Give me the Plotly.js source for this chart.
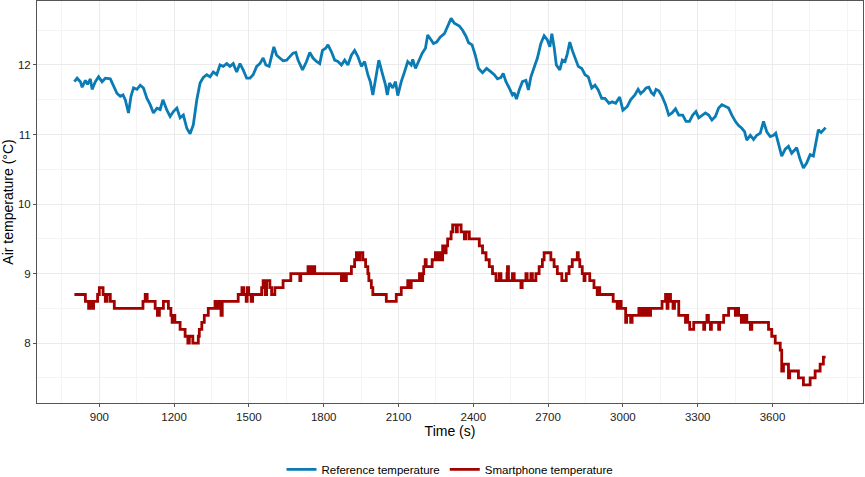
<!DOCTYPE html>
<html>
<head>
<meta charset="utf-8">
<script src="https://cdn.plot.ly/plotly-3.0.1.min.js"></script>
<style>html,body{margin:0;padding:0;background:#fff;}#chart{width:865px;height:477px;}</style>
</head>
<body>
<div id="chart"></div>
<script>
// Reference temperature (time in s, temperature in °C)
const refTime = [800,811,824,831,844,853,864,871,884,897,911,924,944,957,971,984,995,1004,1017,1027,1037,1051,1064,1077,1091,1104,1117,1131,1144,1155,1171,1184,1197,1211,1224,1237,1251,1264,1277,1291,1304,1317,1331,1344,1357,1371,1384,1397,1411,1424,1437,1451,1464,1477,1491,1504,1517,1531,1544,1557,1568,1581,1591,1600,1611,1624,1637,1651,1664,1677,1688,1697,1715,1731,1744,1757,1771,1784,1795,1808,1817,1831,1844,1857,1871,1884,1897,1911,1924,1937,1951,1964,1977,1987,1997,2011,2021,2035,2048,2055,2064,2077,2088,2097,2111,2124,2137,2151,2157,2168,2181,2195,2208,2217,2231,2240,2253,2267,2284,2297,2311,2324,2344,2357,2371,2381,2395,2408,2421,2437,2453,2471,2484,2497,2511,2520,2531,2544,2557,2564,2573,2584,2597,2611,2621,2631,2644,2657,2671,2684,2697,2707,2715,2724,2733,2747,2757,2768,2777,2787,2797,2811,2821,2835,2848,2861,2875,2888,2901,2915,2928,2944,2957,2971,2987,3000,3017,3031,3048,3061,3071,3084,3093,3104,3115,3124,3133,3144,3157,3171,3184,3197,3211,3224,3240,3253,3267,3280,3293,3304,3317,3331,3344,3357,3371,3384,3397,3411,3424,3437,3451,3464,3477,3488,3497,3511,3524,3537,3551,3564,3577,3591,3604,3613,3624,3637,3651,3664,3677,3691,3697,3711,3724,3737,3751,3764,3773,3784,3795,3804,3813];
const refTemp = [11.76,11.81,11.76,11.68,11.78,11.72,11.80,11.65,11.76,11.83,11.76,11.81,11.80,11.71,11.59,11.55,11.57,11.50,11.31,11.55,11.67,11.65,11.71,11.67,11.52,11.43,11.31,11.38,11.36,11.50,11.35,11.26,11.33,11.38,11.24,11.28,11.09,11.01,11.14,11.50,11.74,11.82,11.86,11.83,11.90,11.86,12.00,11.98,12.02,11.98,12.02,11.90,12.02,11.93,11.81,11.81,11.86,11.98,12.02,12.10,12.00,11.98,12.12,12.26,12.14,12.10,12.06,12.07,12.12,12.17,12.18,12.07,11.93,12.05,12.18,12.10,12.05,12.02,12.21,12.24,12.29,12.19,12.07,12.05,12.00,12.07,12.00,12.14,12.21,12.12,11.98,12.05,11.86,11.76,11.57,11.88,12.07,11.88,11.71,11.57,11.74,11.67,11.76,11.56,11.76,11.90,12.05,12.00,12.08,11.95,12.05,12.17,12.24,12.43,12.36,12.31,12.33,12.40,12.45,12.57,12.67,12.60,12.56,12.50,12.41,12.32,12.29,12.14,11.95,11.89,11.95,11.90,11.86,11.80,11.82,11.88,11.76,11.67,11.57,11.60,11.51,11.64,11.76,11.78,11.64,11.83,11.98,12.10,12.31,12.42,12.36,12.26,12.45,12.26,12.00,11.93,12.07,12.05,12.16,12.33,12.21,12.08,11.98,11.95,11.86,11.83,11.67,11.71,11.64,11.52,11.52,11.45,11.47,11.45,11.54,11.35,11.40,11.50,11.57,11.65,11.59,11.63,11.67,11.68,11.60,11.57,11.65,11.63,11.55,11.43,11.28,11.31,11.37,11.28,11.28,11.19,11.19,11.28,11.33,11.24,11.28,11.31,11.28,11.21,11.26,11.38,11.43,11.40,11.38,11.28,11.19,11.13,11.09,11.04,10.92,10.99,10.93,10.99,11.02,11.19,11.04,10.97,10.99,11.02,10.88,10.69,10.79,10.83,10.73,10.78,10.81,10.64,10.52,10.59,10.71,10.69,10.88,11.07,11.03,11.07,11.10];

// Smartphone temperature (step changes: time in s, temperature in °C)
const phoneTime = [800,844,857,864,868,877,893,900,915,924,931,944,960,1075,1084,1092,1124,1133,1141,1157,1177,1187,1192,1197,1203,1224,1244,1255,1261,1275,1297,1301,1311,1321,1337,1364,1373,1380,1388,1393,1457,1472,1479,1489,1493,1499,1509,1515,1551,1557,1565,1571,1584,1591,1604,1637,1668,1704,1708,1737,1744,1755,1764,1871,1877,1884,1891,1911,1924,1931,1941,1945,1957,1968,1977,1981,1991,1997,2051,2091,2111,2137,2144,2151,2184,2191,2197,2201,2207,2211,2235,2248,2257,2261,2272,2277,2287,2291,2297,2311,2317,2331,2336,2351,2364,2371,2384,2424,2437,2451,2464,2477,2491,2504,2511,2535,2537,2541,2557,2564,2591,2596,2611,2616,2631,2637,2651,2664,2677,2684,2711,2724,2737,2755,2773,2784,2797,2817,2821,2827,2837,2844,2848,2867,2884,2897,2901,2907,2961,2977,2984,2993,3011,3015,3031,3037,3064,3071,3077,3088,3093,3104,3111,3157,3171,3177,3181,3191,3201,3207,3224,3251,3255,3260,3268,3284,3324,3328,3337,3343,3351,3355,3384,3388,3404,3424,3451,3457,3464,3475,3480,3488,3493,3497,3511,3517,3584,3597,3611,3631,3637,3644,3664,3669,3704,3724,3751,3771,3791,3804,3813];
const phoneTemp = [8.7,8.6,8.5,8.6,8.5,8.6,8.7,8.8,8.7,8.6,8.7,8.6,8.5,8.6,8.7,8.6,8.5,8.4,8.5,8.6,8.5,8.4,8.3,8.4,8.3,8.2,8.1,8.0,8.1,8.0,8.1,8.2,8.3,8.4,8.5,8.6,8.5,8.6,8.4,8.6,8.7,8.8,8.7,8.6,8.8,8.7,8.6,8.7,8.8,8.9,8.7,8.9,8.8,8.7,8.8,8.9,9.0,8.9,9.0,9.1,9.0,9.1,9.0,8.9,9.0,8.9,9.0,9.1,9.2,9.3,9.2,9.3,9.2,9.1,9.0,8.9,8.8,8.7,8.6,8.7,8.8,8.9,8.8,8.9,9.0,8.9,9.0,9.1,9.2,9.1,9.2,9.3,9.2,9.3,9.2,9.4,9.3,9.4,9.5,9.6,9.7,9.6,9.7,9.6,9.5,9.6,9.5,9.4,9.3,9.2,9.1,9.0,8.9,9.0,8.9,9.0,9.1,8.9,9.0,8.9,8.8,8.9,9.0,8.9,9.0,8.9,9.0,9.1,9.2,9.3,9.2,9.1,9.0,8.9,9.0,9.1,9.2,9.3,9.2,9.1,9.0,8.9,9.0,8.9,8.8,8.7,8.8,8.7,8.6,8.5,8.6,8.5,8.3,8.4,8.3,8.4,8.5,8.4,8.5,8.4,8.5,8.4,8.5,8.6,8.7,8.5,8.7,8.6,8.5,8.6,8.4,8.3,8.4,8.3,8.2,8.3,8.2,8.3,8.4,8.3,8.2,8.3,8.2,8.3,8.4,8.5,8.4,8.5,8.4,8.3,8.4,8.3,8.4,8.3,8.2,8.3,8.2,8.1,8.0,7.9,7.6,7.7,7.5,7.6,7.5,7.4,7.5,7.6,7.7,7.8,7.8];

const xTicks = [900,1200,1500,1800,2100,2400,2700,3000,3300,3600];
const yTicks = [8,9,10,11,12];
const seriesNames = ["Reference temperature","Smartphone temperature"];
const seriesColors = ["#0A7BB4","#A30000"];

const font = "Liberation Sans, Arial, Helvetica, sans-serif";

const traces = [
  {x: refTime, y: refTemp, type: "scatter", mode: "lines", name: seriesNames[0],
   line: {color: seriesColors[0], width: 2.8}},
  {x: phoneTime, y: phoneTemp, type: "scatter", mode: "lines", name: seriesNames[1],
   line: {color: seriesColors[1], width: 2.8, shape: "hv"}}
];

const layout = {
  width: 865, height: 477,
  margin: {l: 37, r: 2, t: 1, b: 74, autoexpand: false},
  paper_bgcolor: "#fff", plot_bgcolor: "#fff",
  font: {family: font, color: "#000"},
  showlegend: true,
  legend: {orientation: "h", x: 0.5, xanchor: "center", y: -0.129, yanchor: "top",
           font: {size: 11.5, color: "#000", family: font}, itemwidth: 30, tracegroupgap: 0},
  xaxis: {
    range: [650, 3963], tickvals: xTicks, ticktext: xTicks.map(String),
    showgrid: true, gridcolor: "#EBEBEB", gridwidth: 1,
    minor: {dtick: 150, tick0: 750, showgrid: true, gridcolor: "#F1F1F1", gridwidth: 0.8},
    showline: true, mirror: true, linecolor: "#555", linewidth: 1,
    ticks: "outside", ticklen: 3, tickcolor: "#555",
    tickfont: {size: 11.5, color: "#222", family: font},
    zeroline: false,
    title: {text: "Time (s)", font: {size: 14, color: "#000", family: font}, standoff: 3}
  },
  yaxis: {
    range: [7.14, 12.92], tickvals: yTicks, ticktext: yTicks.map(String),
    showgrid: true, gridcolor: "#EBEBEB", gridwidth: 1,
    minor: {dtick: 0.5, tick0: 7.5, showgrid: true, gridcolor: "#F1F1F1", gridwidth: 0.8},
    showline: true, mirror: true, linecolor: "#555", linewidth: 1,
    ticks: "outside", ticklen: 3, tickcolor: "#555",
    tickfont: {size: 11.5, color: "#222", family: font},
    zeroline: false,
    title: {text: "Air temperature (°C)", font: {size: 14, color: "#000", family: font}, standoff: 2}
  }
};

Plotly.newPlot("chart", traces, layout, {staticPlot: true, displayModeBar: false});
</script>
</body>
</html>
